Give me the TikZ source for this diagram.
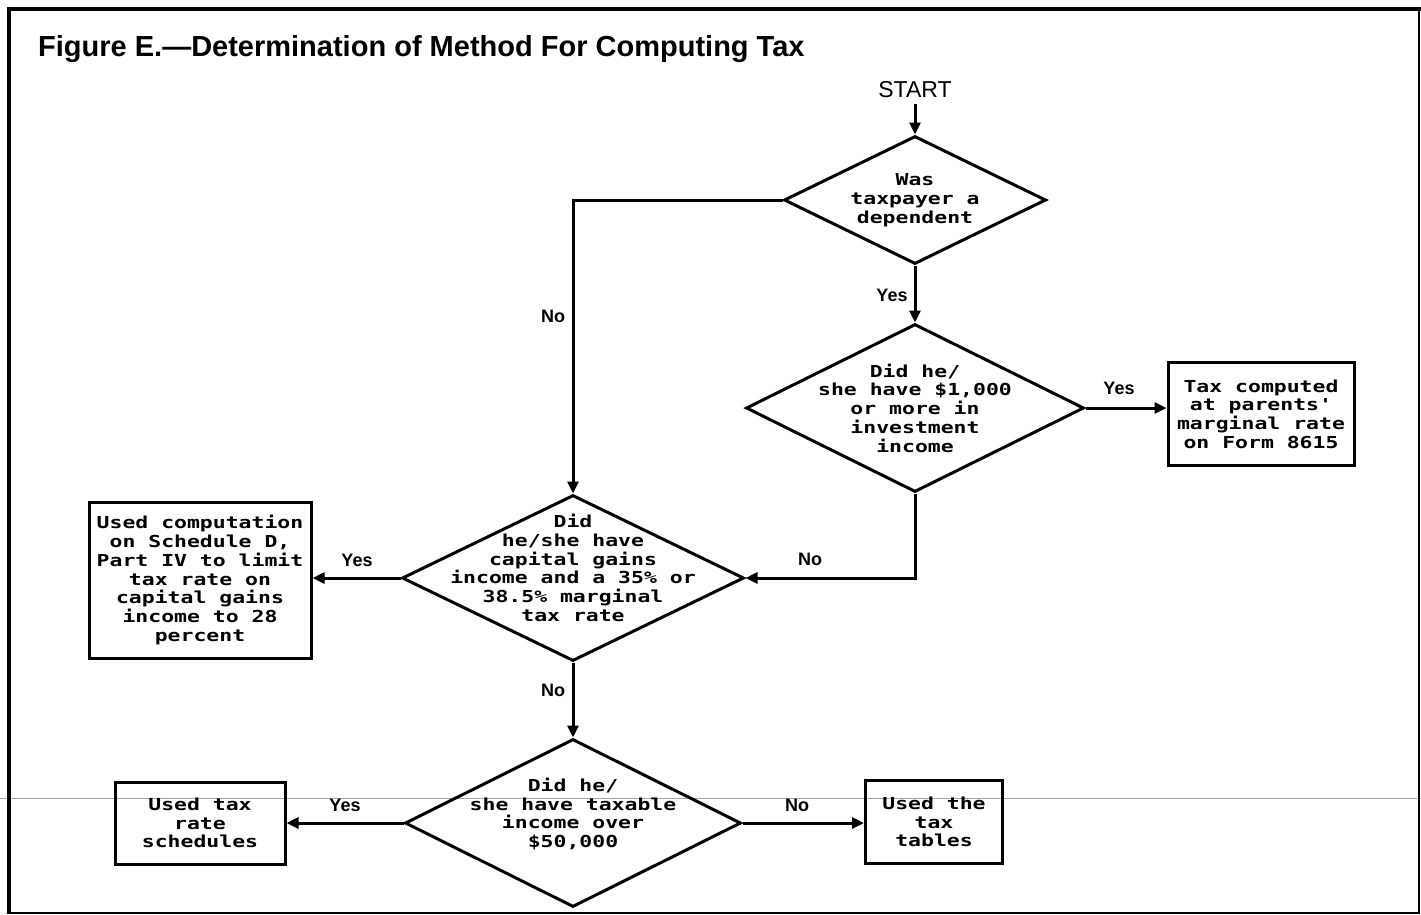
\documentclass[tikz,border=0pt]{standalone}
\usepackage{fontspec}
\setmainfont{Liberation Sans}
\newfontfamily\monob[FakeStretch=1.3]{DejaVu Sans Mono}
\usetikzlibrary{shapes.geometric,arrows.meta}
\begin{document}
\begin{tikzpicture}[x=1pt,y=-1pt,
  txt/.style={font=\monob\bfseries\fontsize{16.5}{18.7}\selectfont, align=center, inner sep=0pt},
  dia/.style={draw, diamond, line width=3pt, inner sep=0pt},
  box/.style={draw, rectangle, line width=3pt, inner sep=0pt, txt},
  conn/.style={line width=3pt},
  arr/.style={conn, -{Triangle[length=12pt,width=11pt]}},
  lab/.style={font=\bfseries\fontsize{18}{20}\selectfont, inner sep=0pt},
  scanline/.style={gray!70, line width=0.8pt},
  frameline/.style={line width=3.5pt},
  thinframe/.style={line width=1.2pt}]
\useasboundingbox (0,0) rectangle (1421,914);
% scanning line
\draw[scanline] (0,798) -- (1421,798);
% frame
\draw[thinframe] (9,913) -- (1419,913) -- (1419,9);
\draw[frameline] (9,914) -- (9,9) -- (1421,9);
% title
\node[anchor=base west, font=\bfseries\fontsize{29}{32}\selectfont, inner sep=0pt] (title) at (38,56) {Figure E.---Determination of Method For Computing Tax};
% start
\node[font=\fontsize{23}{26}\selectfont, inner sep=0pt] (start) at (915,90) {START};
% diamonds
\node[dia, minimum width=262pt, minimum height=128pt,
  label={[txt]center:{Was\\taxpayer a\\dependent}}] (d1) at (915,200) {};
\node[dia, minimum width=338pt, minimum height=168pt,
  label={[txt]center:{Did he/\\she have \$1,000\\or more in\\investment\\income}}] (d2) at (915,408) {};
\node[dia, minimum width=342pt, minimum height=166pt,
  label={[txt, yshift=10pt]center:{Did\\he/she have\\capital gains\\income and a 35\% or\\38.5\% marginal\\tax rate}}] (d3) at (573,578) {};
\node[dia, minimum width=336pt, minimum height=168pt,
  label={[txt, yshift=9pt]center:{Did he/\\she have taxable\\income over\\\$50,000}}] (d4) at (573,823) {};
% boxes
\node[box, minimum width=186pt, minimum height=103pt] (b1) at (1261,414) {Tax computed\\at parents'\\marginal rate\\on Form 8615};
\node[box, minimum width=222pt, minimum height=156pt] (b2) at (200,580) {Used computation\\on Schedule D,\\Part IV to limit\\tax rate on\\capital gains\\income to 28\\percent};
\node[box, minimum width=170pt, minimum height=82pt] (b3) at (200,823) {Used tax\\rate\\schedules};
\node[box, minimum width=137pt, minimum height=83pt] (b4) at (934,822) {Used the\\tax\\tables};
% connectors
\draw[arr, shorten <=6pt] (start.south) -- (d1.north);
\draw[arr] (d1.west) -| (d3.north);
\draw[arr] (d1.south) -- (d2.north);
\draw[arr] (d2.east) -- (d2.east -| b1.west);
\draw[arr] (d2.south) |- (d3.east);
\draw[arr] (d3.west) -- (d3.west -| b2.east);
\draw[arr] (d3.south) -- (d4.north);
\draw[arr] (d4.west) -- (d4.west -| b3.east);
\draw[arr] (d4.east) -- (d4.east -| b4.west);
% labels
\node[lab] (l1) at (553,316) {No};
\node[lab] (l2) at (892,295) {Yes};
\node[lab] (l3) at (1119,388) {Yes};
\node[lab] (l4) at (810,559) {No};
\node[lab] (l5) at (357,560) {Yes};
\node[lab] (l6) at (553,690) {No};
\node[lab] (l7) at (345,805) {Yes};
\node[lab] (l8) at (797,805) {No};
\end{tikzpicture}
\end{document}
